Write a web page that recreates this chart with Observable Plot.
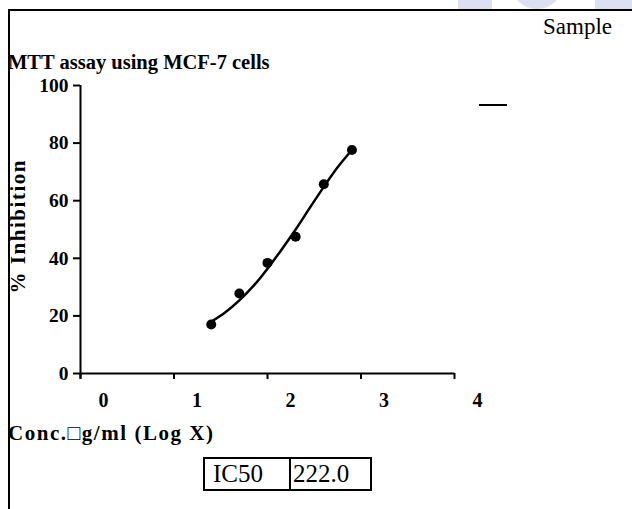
<!DOCTYPE html>
<html>
<head>
<meta charset="utf-8">
<script src="https://cdn.jsdelivr.net/npm/d3@7"></script>
<script src="https://cdn.jsdelivr.net/npm/@observablehq/plot@0.6"></script>
<style>
  html, body { margin: 0; padding: 0; background: #fff; }
  #wrap { position: relative; width: 632px; height: 509px; overflow: hidden; font-family: "Liberation Serif", "Times New Roman", serif; color: #000; }
  #wrap svg { position: absolute; left: 0; top: 0; }
  .abs { position: absolute; white-space: nowrap; line-height: 1; }
  .wm { position: absolute; background: #dde0f1; }
</style>
</head>
<body>
<div id="wrap">
  <div class="wm" style="left:458px;top:0;width:34px;height:9px;"></div>
  <div class="wm" style="left:510px;top:-30px;width:54px;height:39px;border-radius:0 0 27px 27px;"></div>
  <div class="wm" style="left:595px;top:0;width:37px;height:9px;"></div>
  <div class="abs" style="left:8px;top:9px;width:624px;height:2px;background:#000;"></div>
  <div class="abs" style="left:8px;top:9px;width:2px;height:500px;background:#000;"></div>
  <div class="abs" id="title" style="left:8px;top:52px;font-size:20.5px;font-weight:bold;">MTT assay using MCF-7 cells</div>
  <div class="abs" id="sample" style="left:543px;top:15px;font-size:23px;">Sample</div>
  <div class="abs" style="left:479px;top:104px;width:28px;height:2px;background:#000;"></div>
  <div class="abs" id="xlabel" style="left:8px;top:423px;font-size:21px;font-weight:bold;">Conc.□g/ml (Log X)</div>
  <div class="abs" style="left:203px;top:457px;width:165px;height:30px;border:2px solid #000;"></div>
  <div class="abs" style="left:289px;top:457px;width:2px;height:34px;background:#000;"></div>
  <div class="abs" style="left:213px;top:461px;font-size:25px;">IC50</div>
  <div class="abs" style="left:293px;top:461px;font-size:25px;">222.0</div>
</div>
<script>
// Tick labels
const xTicks = [0, 1, 2, 3, 4];
const yTicks = [0, 20, 40, 60, 80, 100];

// Observed data: log10 concentration (µg/ml) vs % inhibition
const logConc = [1.398, 1.699, 2.0, 2.301, 2.602, 2.903];
const inhibition = [17.0, 27.8, 38.4, 47.5, 65.7, 77.6];

// Fitted curve
const fitX = [1.398, 1.55, 1.699, 1.85, 2.0, 2.15, 2.301, 2.45, 2.602, 2.75, 2.903];
const fitY = [18.0, 21.3, 25.4, 30.4, 36.4, 43.0, 50.0, 57.4, 64.8, 71.6, 77.6];

const points = logConc.map((x, i) => ({x, y: inhibition[i]}));
const fit = fitX.map((x, i) => ({x, y: fitY[i]}));

const chart = Plot.plot({
  width: 632,
  height: 509,
  marginLeft: 80,
  marginRight: 178,
  marginTop: 85,
  marginBottom: 136,
  style: {fontFamily: "Liberation Serif, serif", background: "transparent", overflow: "visible"},
  x: {domain: [0, 4]},
  y: {domain: [0, 100]},
  marks: [
    Plot.axisY({ticks: yTicks, tickSize: 7, tickPadding: 5, strokeWidth: 2, fontSize: 19.5, fontWeight: "bold", label: null}),
    Plot.axisX({ticks: xTicks, tickSize: 6, strokeWidth: 2, fill: "none", label: null}),
    Plot.axisX({ticks: xTicks, tickSize: 0, tickPadding: 19, dx: 23, fontSize: 20, fontWeight: "bold",
      tickFormat: d => String(d), label: null}),
    Plot.ruleX([0], {y1: -2, y2: 100, strokeWidth: 2}),
    Plot.ruleY([0], {x1: 0, x2: 4, strokeWidth: 2}),
    Plot.text(["% Inhibition"], {frameAnchor: "left", rotate: -90, textAnchor: "start", dx: -62, dy: 64,
      fontSize: 21, fontWeight: "bold", className: "ylab"}),
    Plot.line(fit, {x: "x", y: "y", curve: "natural", strokeWidth: 2.5}),
    Plot.dot(points, {x: "x", y: "y", r: 5, fill: "black", stroke: "none"})
  ]
});
document.getElementById("wrap").appendChild(chart);

// Stretch the y label to the length seen in the reference
d3.select(chart).selectAll(".ylab text").attr("textLength", 133).attr("lengthAdjust", "spacing");

// Match the x-label width in the reference (x 8 → 213)
const xl = document.getElementById("xlabel");
const w = xl.getBoundingClientRect().width;
const n = xl.textContent.length;
if (w < 205) xl.style.letterSpacing = ((205 - w) / (n - 1)) + "px";
</script>
</body>
</html>
